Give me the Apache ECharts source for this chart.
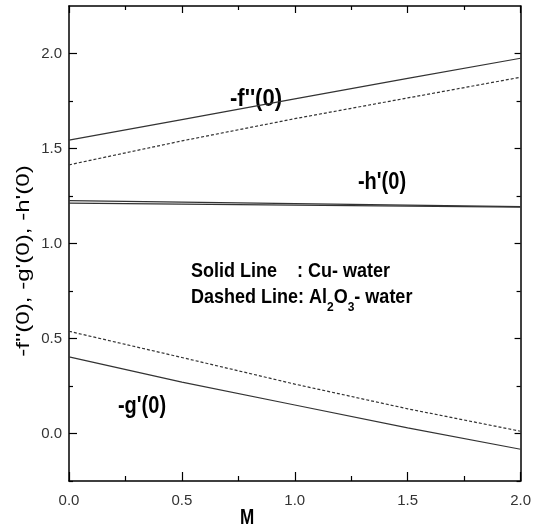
<!DOCTYPE html>
<html>
<head>
<meta charset="utf-8">
<script src="https://cdn.jsdelivr.net/npm/echarts@6/dist/echarts.min.js"></script>
<style>
  html, body { margin: 0; padding: 0; background: #fff; }
  #chart { width: 534px; height: 531px; }
</style>
</head>
<body>
<div id="chart"></div>
<script>
// Magnetic parameter M
const M = [0.0, 0.5, 1.0, 1.5, 2.0];

// Skin friction -f''(0)
const fCu = [1.544, 1.652, 1.761, 1.869, 1.975];
const fAl = [1.414, 1.540, 1.657, 1.766, 1.875];

// -h'(0)
const hCu = [1.226, 1.218, 1.210, 1.202, 1.194];
const hAl = [1.212, 1.207, 1.202, 1.197, 1.191];

// -g'(0)
const gCu = [0.403, 0.270, 0.150, 0.030, -0.083];
const gAl = [0.538, 0.400, 0.260, 0.130, 0.012];

// Axis ticks
const xMajor = [0.0, 0.5, 1.0, 1.5, 2.0];
const xMinor = [0.25, 0.75, 1.25, 1.75];
const yMajor = [0.0, 0.5, 1.0, 1.5, 2.0];
const yMinor = [-0.25, 0.25, 0.75, 1.25, 1.75];

const FONT = 'Liberation Sans, Arial, sans-serif';
const LINE = '#333';

const pairs = (xs, ys) => xs.map((x, i) => [x, ys[i]]);

function xAx(pos, ticks, len, showLabel, line) {
  return {
    type: 'value', position: pos, min: 0, max: 2,
    axisLine: { show: line, onZero: false, lineStyle: { color: '#000', width: 1.5 } },
    axisTick: { show: true, inside: true, length: len, customValues: ticks,
                lineStyle: { color: '#000', width: 1.2 } },
    axisLabel: { show: showLabel, customValues: ticks, margin: 12,
                 fontFamily: FONT, fontSize: 15, color: '#333',
                 formatter: v => v.toFixed(1) },
    splitLine: { show: false }
  };
}
function yAx(pos, ticks, len, showLabel, line) {
  return {
    type: 'value', position: pos, min: -0.25, max: 2.25,
    axisLine: { show: line, onZero: false, lineStyle: { color: '#000', width: 1.5 } },
    axisTick: { show: true, inside: true, length: len, customValues: ticks,
                lineStyle: { color: '#000', width: 1.2 } },
    axisLabel: { show: showLabel, customValues: ticks, margin: 7,
                 fontFamily: FONT, fontSize: 15, color: '#333',
                 formatter: v => v.toFixed(1) },
    splitLine: { show: false }
  };
}

const solid = { color: LINE, width: 1.2, type: 'solid' };
const dashed = { color: LINE, width: 1.2, type: [3, 2] };

function series(name, xs, ys, style) {
  return { name, type: 'line', xAxisIndex: 0, yAxisIndex: 0, data: pairs(xs, ys),
           showSymbol: false, smooth: false, lineStyle: style, silent: true, animation: false };
}

// Bold, tall annotation text centred on (x, y)
function label(text, x, y, size, sx, sy, align) {
  return {
    type: 'text', x, y, scaleX: sx, scaleY: sy, silent: true,
    style: { text, fontFamily: FONT, fontWeight: 'bold', fontSize: size, fill: '#000',
             align: align || 'center', verticalAlign: 'middle' }
  };
}

const chart = echarts.init(document.getElementById('chart'), null, { renderer: 'canvas' });
chart.setOption({
  backgroundColor: '#fff',
  animation: false,
  grid: { left: 69, right: 9, top: 6, bottom: 50, containLabel: false },
  xAxis: [
    xAx('bottom', xMajor, 9, true, true),
    xAx('bottom', xMinor, 5, false, false),
    xAx('top', xMajor, 7, false, true),
    xAx('top', xMinor, 4, false, false)
  ],
  yAxis: [
    yAx('left', yMajor, 8, true, true),
    yAx('left', yMinor, 4, false, false),
    yAx('right', yMajor, 6, false, true),
    yAx('right', yMinor, 4, false, false)
  ],
  series: [
    series('f Cu', M, fCu, solid),
    series('f Al2O3', M, fAl, dashed),
    series('h Cu', M, hCu, solid),
    series('h Al2O3', M, hAl, solid),
    series('g Cu', M, gCu, solid),
    series('g Al2O3', M, gAl, dashed)
  ],
  graphic: [
    // axis titles
    label('M', 247, 518, 18, 0.95, 1.25),
    {
      type: 'text', x: 24, y: 261, rotation: Math.PI / 2, scaleX: 1.42, scaleY: 1.05, silent: true,
      style: { text: "-f''(0), -g'(0), -h'(0)", fontFamily: FONT, fontSize: 17, fill: '#000',
               align: 'center', verticalAlign: 'middle' }
    },
    // curve labels
    label("-f''(0)", 256, 99, 20, 1.1, 1.2),
    label("-h'(0)", 382, 182, 20, 1.0, 1.2),
    label("-g'(0)", 142, 406, 20, 1.0, 1.2),
    // legend note
    label('Solid Line    : Cu- water', 191, 272, 18, 1.0, 1.1, 'left'),
    {
      type: 'text', x: 191, y: 296, scaleX: 1.0, scaleY: 1.1, silent: true,
      style: {
        text: '{a|Dashed Line: Al}{s|2}{a|O}{s|3}{a|- water}',
        align: 'left', verticalAlign: 'middle',
        rich: {
          a: { fontFamily: FONT, fontWeight: 'bold', fontSize: 18, color: '#000',
               verticalAlign: 'bottom', lineHeight: 20 },
          s: { fontFamily: FONT, fontWeight: 'bold', fontSize: 12, color: '#000',
               verticalAlign: 'bottom', lineHeight: 12, padding: [0, 0, -6, 0] }
        }
      }
    }
  ]
});
</script>
</body>
</html>
